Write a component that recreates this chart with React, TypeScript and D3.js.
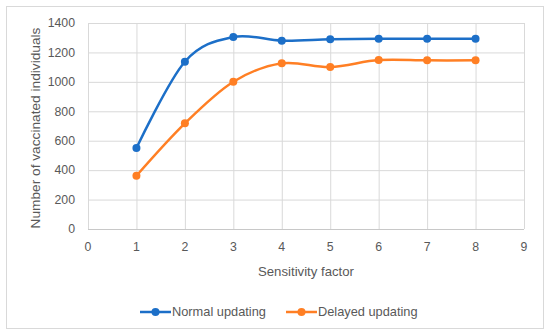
import React from "react";
import * as d3 from "d3";

const sensitivity = [1, 2, 3, 4, 5, 6, 7, 8];
const normalUpdating = [550, 1137, 1305, 1280, 1289, 1293, 1293, 1293];
const delayedUpdating = [362, 718, 1001, 1126, 1101, 1148, 1146, 1146];
const xTicks = [0, 1, 2, 3, 4, 5, 6, 7, 8, 9];
const yTicks = [0, 200, 400, 600, 800, 1000, 1200, 1400];
const seriesNames = ["Normal updating", "Delayed updating"];
const seriesColors = ["#1C6FC8", "#FF7F24"];

const W = 550;
const H = 335;
const FONT = "'Liberation Sans', Arial, sans-serif";
const TEXT = "#595959";

export default function App() {
  const x = d3.scaleLinear().domain([0, 9]).range([88, 524]);
  const y = d3.scaleLinear().domain([0, 1400]).range([229, 23]);
  const line = d3
    .line<number>()
    .x((_, i) => x(sensitivity[i]))
    .y((d) => y(d))
    .curve(d3.curveCatmullRom.alpha(0));
  const series = [normalUpdating, delayedUpdating];
  const legendX = [140, 286];

  return (
    <svg width={W} height={H} style={{ position: "absolute", left: 0, top: 0 }}>
      <rect x={0} y={0} width={W} height={H} fill="#fff" />
      <rect x={6.5} y={6.5} width={537} height={322} fill="#fff" stroke="#d9d9d9" strokeWidth={1} />
      {yTicks.map((t) => (
        <line key={"gy" + t} x1={x(0)} x2={x(9)} y1={y(t) + 0.5} y2={y(t) + 0.5} stroke="#d9d9d9" strokeWidth={1} />
      ))}
      {xTicks.map((t) => (
        <line key={"gx" + t} x1={x(t) + 0.5} x2={x(t) + 0.5} y1={y(0)} y2={y(1400)} stroke="#d9d9d9" strokeWidth={1} />
      ))}
      <line x1={x(0)} x2={x(9)} y1={y(0) + 0.5} y2={y(0) + 0.5} stroke="#c8c8c8" strokeWidth={1.2} />
      {yTicks.map((t) => (
        <text key={"ty" + t} x={75} y={y(t)} dy="0.35em" textAnchor="end" fontFamily={FONT} fontSize={12.3} fill={TEXT}>
          {t}
        </text>
      ))}
      {xTicks.map((t) => (
        <text key={"tx" + t} x={x(t)} y={247} dy="0.35em" textAnchor="middle" fontFamily={FONT} fontSize={12.3} fill={TEXT}>
          {t}
        </text>
      ))}
      <text x={x(4.5)} y={271} dy="0.35em" textAnchor="middle" fontFamily={FONT} fontSize={13.2} fill={TEXT}>
        Sensitivity factor
      </text>
      <text
        transform={`translate(35.5,128) rotate(-90)`}
        dy="0.35em"
        textAnchor="middle"
        fontFamily={FONT}
        fontSize={13.7}
        fill={TEXT}
      >
        Number of vaccinated individuals
      </text>
      {series.map((s, si) => (
        <g key={"s" + si}>
          <path d={line(s) || ""} fill="none" stroke={seriesColors[si]} strokeWidth={2.5} />
          {s.map((v, i) => (
            <circle key={i} cx={x(sensitivity[i])} cy={y(v)} r={4} fill={seriesColors[si]} />
          ))}
        </g>
      ))}
      {seriesNames.map((n, i) => (
        <g key={"l" + i}>
          <line x1={legendX[i]} x2={legendX[i] + 31} y1={312} y2={312} stroke={seriesColors[i]} strokeWidth={2.5} />
          <circle cx={legendX[i] + 15.5} cy={312} r={4} fill={seriesColors[i]} />
          <text x={legendX[i] + 32} y={312} dy="0.35em" fontFamily={FONT} fontSize={12.8} fill={TEXT}>
            {n}
          </text>
        </g>
      ))}
    </svg>
  );
}
